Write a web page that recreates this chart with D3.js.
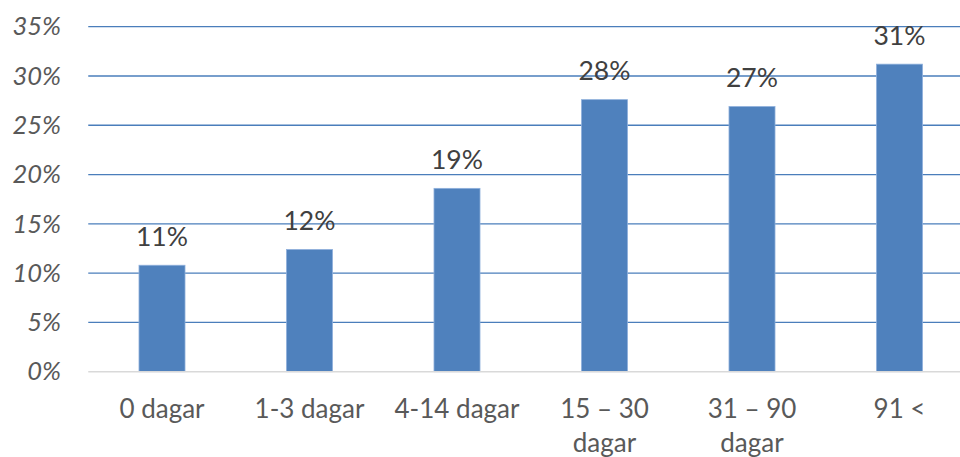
<!DOCTYPE html>
<html>
<head>
<meta charset="utf-8">
<script src="https://cdn.jsdelivr.net/npm/d3@7"></script>
<style>
  html, body { margin: 0; padding: 0; background: #fff; }
  svg { display: block; }
  text { font-family: Lato, "Open Sans", sans-serif; }
</style>
</head>
<body>
<svg id="chart" width="960" height="457"></svg>
<script>
const categories = ["0 dagar", "1-3 dagar", "4-14 dagar", "15 – 30 dagar", "31 – 90 dagar", "91 <"];
const values = [10.8, 12.4, 18.6, 27.6, 26.9, 31.2];
const dataLabels = ["11%", "12%", "19%", "28%", "27%", "31%"];
const yTicks = [0, 5, 10, 15, 20, 25, 30, 35];

const svg = d3.select("#chart");
const W = 960, H = 457;
const plotLeft = 88.25, plotRight = 973.25, plotTop = 26.7, plotBottom = 371.7;

const x = d3.scaleBand().domain(categories).range([plotLeft, plotRight]).paddingInner(0.688).paddingOuter(0.344);
const y = d3.scaleLinear().domain([0, 35]).range([plotBottom, plotTop]);

// gridlines
svg.append("g").selectAll("line").data(yTicks.filter(d => d > 0)).join("line")
  .attr("x1", plotLeft).attr("x2", W)
  .attr("y1", d => y(d)).attr("y2", d => y(d))
  .attr("stroke", "#4a7ebb").attr("stroke-width", 1.3);

// bars
svg.append("g").selectAll("rect").data(values).join("rect")
  .attr("x", (d, i) => x(categories[i]))
  .attr("y", d => y(d))
  .attr("width", x.bandwidth())
  .attr("height", d => plotBottom - y(d))
  .attr("fill", "#4f81bd")
  .attr("stroke", "#8fb0dc").attr("stroke-width", 0.8);

// baseline
svg.append("line").attr("x1", plotLeft).attr("x2", W).attr("y1", y(0)).attr("y2", y(0))
  .attr("stroke", "#d9d9d9").attr("stroke-width", 1.5);

// y axis labels
const yAxis = d3.axisLeft(y).tickValues(yTicks).tickFormat(d => d + "%").tickSize(0).tickPadding(0);
const ya = svg.append("g").attr("transform", `translate(61,0)`).call(yAxis);
ya.select(".domain").remove();
ya.selectAll("text").attr("fill", "#595959").attr("font-size", 25.5).attr("font-style", "italic")
  .attr("font-family", "Lato, 'Open Sans', sans-serif");

// x axis labels with wrap
const xAxis = d3.axisBottom(x).tickSize(0).tickPadding(0);
const xa = svg.append("g").attr("transform", `translate(0,${plotBottom})`).call(xAxis);
xa.select(".domain").remove();
xa.selectAll("text").attr("fill", "#595959").attr("font-size", 26)
  .attr("font-family", "Lato, 'Open Sans', sans-serif")
  .attr("dy", null).attr("y", 46)
  .each(function(d) {
    const t = d3.select(this);
    const maxW = 142;
    const words = d.split(" ");
    t.text(null);
    let lines = [];
    let cur = [];
    const probe = t.append("tspan");
    words.forEach(w => {
      const test = cur.concat([w]).join(" ");
      probe.text(test);
      if (probe.node().getComputedTextLength() > maxW && cur.length) {
        lines.push(cur.join(" "));
        cur = [w];
      } else cur.push(w);
    });
    lines.push(cur.join(" "));
    probe.remove();
    lines.forEach((ln, i) => {
      t.append("tspan").attr("x", 0).attr("dy", i === 0 ? 0 : 34).text(ln);
    });
  });

// data labels
svg.append("g").selectAll("text").data(values).join("text")
  .attr("x", (d, i) => x(categories[i]) + x.bandwidth() / 2)
  .attr("y", d => y(d) - 19.5)
  .attr("text-anchor", "middle")
  .attr("fill", "#404040").attr("font-size", 26.5)
  .text((d, i) => dataLabels[i]);
</script>
</body>
</html>
